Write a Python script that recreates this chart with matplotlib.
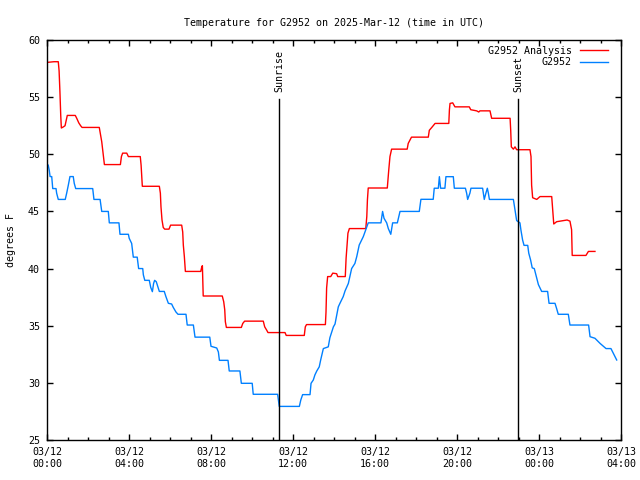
import matplotlib
matplotlib.use("Agg")
import matplotlib.pyplot as plt

# Hours since 2025-03-12 00:00 UTC
analysis_h = [0.06, 0.34, 0.55, 0.59, 0.63, 0.67, 0.70, 0.80, 0.88, 0.94, 0.99, 1.38, 1.45, 1.55, 1.64, 1.71,
              2.55, 2.60, 2.67, 2.72, 2.77, 2.80, 3.58, 3.63, 3.69, 3.89, 3.97, 4.55, 4.59, 4.62, 4.65,
              5.48, 5.53, 5.56, 5.61, 5.67, 5.74, 5.95, 6.03, 6.57, 6.62, 6.65, 6.70, 6.75, 7.50, 7.55,
              7.58, 7.60, 7.62, 8.55, 8.62, 8.67, 8.70, 8.75, 9.48, 9.55, 9.64, 10.55, 10.62, 10.72,
              10.78, 11.61, 11.67, 12.55, 12.60, 12.66, 13.58, 13.61, 13.64, 13.69, 13.84, 13.94,
              14.13, 14.18, 14.55, 14.59, 14.63, 14.68, 14.75, 15.55, 15.60, 15.63, 15.67, 16.60,
              16.67, 16.73, 16.81, 17.57, 17.62, 17.78, 18.60, 18.65, 18.77, 18.93, 19.60, 19.63,
              19.66, 19.79, 19.90, 20.60, 20.67, 20.96, 21.06, 21.12, 21.61, 21.69, 22.59, 22.62,
              22.65, 22.75, 22.83, 22.91, 23.56, 23.61, 23.64, 23.69, 23.89, 24.05, 24.62, 24.67,
              24.72, 24.86, 25.37, 25.51, 25.59, 25.62, 26.29, 26.41, 26.73]
analysis_v = [58.05, 58.1, 58.1, 57.3, 55.5, 53.4, 52.3, 52.4, 52.5, 53.0, 53.4, 53.4, 53.15, 52.75, 52.5, 52.35,
              52.35, 51.85, 51.1, 50.3, 49.5, 49.1, 49.1, 49.8, 50.1, 50.1, 49.8, 49.8, 49.05, 48.05, 47.2,
              47.2, 46.6, 45.4, 44.25, 43.6, 43.45, 43.45, 43.8, 43.8, 43.2, 42.05, 41.05, 39.75, 39.75, 40.15,
              40.25, 39.0, 37.6, 37.6, 37.1, 36.4, 35.35, 34.85, 34.85, 35.2, 35.4, 35.4, 34.9, 34.6,
              34.4, 34.4, 34.15, 34.15, 34.9, 35.1, 35.1, 36.2, 38.3, 39.3, 39.3, 39.6,
              39.55, 39.3, 39.3, 40.9, 41.9, 43.1, 43.5, 43.5, 44.55, 46.0, 47.05, 47.05,
              48.6, 49.8, 50.45, 50.45, 50.95, 51.5, 51.5, 52.1, 52.35, 52.7, 52.7, 53.9,
              54.45, 54.5, 54.15, 54.15, 53.9, 53.8, 53.7, 53.8, 53.8, 53.15, 53.15, 52.1,
              50.65, 50.45, 50.65, 50.4, 50.4, 49.8, 47.3, 46.2, 46.05, 46.3, 46.3, 45.1,
              43.9, 44.1, 44.25, 44.15, 43.4, 41.15, 41.15, 41.5, 41.5]

obs_h = [0.06, 0.11, 0.15, 0.23, 0.28, 0.44, 0.47, 0.55, 0.89, 0.96, 1.04, 1.12, 1.28, 1.33, 1.40, 2.23,
         2.29, 2.59, 2.63, 2.67, 2.99, 3.04, 3.51, 3.56, 3.97, 4.01, 4.13, 4.21, 4.40, 4.47, 4.67,
         4.70, 4.77, 4.99, 5.06, 5.14, 5.20, 5.25, 5.33, 5.43, 5.48, 5.72, 5.80, 5.92, 6.08, 6.16,
         6.29, 6.39, 6.78, 6.84, 7.14, 7.22, 7.94, 8.00, 8.28, 8.36, 8.41, 8.83, 8.89, 9.41, 9.48,
         10.01, 10.06, 11.25, 11.30, 11.33, 12.31, 12.38, 12.47, 12.83, 12.88, 12.99, 13.07, 13.16,
         13.28, 13.35, 13.48, 13.72, 13.80, 13.97, 14.05, 14.21, 14.29, 14.45, 14.54, 14.70, 14.86,
         15.02, 15.11, 15.23, 15.43, 15.60, 15.67, 16.29, 16.37, 16.44, 16.57, 16.65, 16.77, 16.86,
         17.09, 17.19, 17.22, 18.16, 18.24, 18.84, 18.89, 19.09, 19.14, 19.17, 19.20, 19.41, 19.46,
         19.82, 19.87, 20.41, 20.47, 20.52, 20.63, 20.68, 21.25, 21.33, 21.41, 21.48, 21.53, 21.58,
         22.75, 22.83, 22.91, 23.07, 23.12, 23.20, 23.27, 23.45, 23.50, 23.59, 23.67, 23.77, 23.85,
         23.97, 24.13, 24.42, 24.49, 24.78, 24.86, 24.94, 25.43, 25.51, 26.42, 26.49, 26.73, 26.98,
         27.27, 27.51, 27.62, 27.79]
obs_v = [49.05, 48.6, 48.05, 48.05, 47.0, 47.0, 46.6, 46.05, 46.05, 46.6, 47.3, 48.05, 48.05, 47.45, 47.0, 47.0,
         46.05, 46.05, 45.55, 45.0, 45.0, 44.0, 44.0, 43.0, 43.0, 42.65, 42.2, 41.0, 41.0, 40.0, 40.0,
         39.45, 38.97, 38.97, 38.35, 37.98, 38.7, 38.97, 38.85, 38.3, 38.0, 38.0, 37.55, 36.96, 36.9, 36.6,
         36.2, 36.0, 36.0, 35.06, 35.06, 34.0, 34.0, 33.2, 33.05, 32.7, 31.97, 31.97, 31.04, 31.04, 29.96,
         29.96, 29.0, 29.0, 28.35, 27.94, 27.94, 28.5, 28.97, 28.97, 29.96, 30.25, 30.7, 31.04,
         31.4, 32.0, 33.0, 33.15, 33.95, 34.9, 35.15, 36.65, 36.96, 37.55, 38.05, 38.7, 40.0,
         40.45, 41.05, 42.06, 42.8, 43.65, 44.0, 44.0, 45.0, 44.4, 44.0, 43.5, 43.0, 44.0,
         44.0, 44.8, 45.0, 45.0, 46.06, 46.06, 47.03, 47.03, 48.04, 47.5, 47.03, 47.03, 48.04,
         48.04, 47.03, 47.03, 46.6, 46.05, 46.6, 47.03, 47.03, 46.05, 46.6, 47.03, 46.6, 46.05,
         46.05, 45.1, 44.2, 44.0, 43.35, 42.5, 42.03, 42.03, 41.35, 40.75, 40.06, 40.0, 39.45,
         38.6, 38.0, 38.0, 36.96, 36.96, 36.5, 36.0, 36.0, 35.06, 35.06, 34.04, 33.9, 33.45,
         33.0, 33.0, 32.6, 32.0]

sun_events = [11.33, 22.99]
sun_labels = ["Sunrise", "Sunset"]
xtick_pos = [0, 4, 8, 12, 16, 20, 24, 28]
xtick_labels = ["03/12\n00:00", "03/12\n04:00", "03/12\n08:00", "03/12\n12:00",
                "03/12\n16:00", "03/12\n20:00", "03/13\n00:00", "03/13\n04:00"]

FONT = "DejaVu Sans Mono"
FS = 7.2
plt.rcParams['font.family'] = FONT
plt.rcParams['font.size'] = FS

fig = plt.figure(figsize=(6.4, 4.8), dpi=100)
ax = fig.add_axes([47/640, 1-440/480, (621-47)/640, 400/480])

ax.plot(analysis_h, analysis_v, color="#ff0000", lw=1.0, label="G2952 Analysis")
ax.plot(obs_h, obs_v, color="#0080ff", lw=1.0, label="G2952")

for h, lab in zip(sun_events, sun_labels):
    ax.plot([h, h], [25, 54.84], color="black", lw=1.0)
    ax.text(h, 55.45, lab, rotation=90, ha="center", va="bottom", fontsize=FS)

ax.set_xlim(0, 28)
ax.set_ylim(25, 60)
ax.set_xticks(xtick_pos)
ax.set_xticklabels(xtick_labels)
ax.set_xticks(range(0, 29), minor=True)
ax.set_yticks(range(25, 61, 5))
ax.tick_params(which="major", direction="in", length=4, width=1, top=True, right=True, pad=5)
ax.tick_params(which="minor", direction="in", length=2, width=1, top=True, right=False, left=False)
for s in ax.spines.values():
    s.set_linewidth(1.0)

ax.set_ylabel("degrees F", labelpad=9)
ax.set_title("Temperature for G2952 on 2025-Mar-12 (time in UTC)", fontsize=FS, pad=10)

ax.legend(loc="upper right", frameon=False, markerfirst=False, handlelength=2.8,
          handletextpad=0.8, labelspacing=0.15, borderaxespad=0.2, fontsize=FS,
          bbox_to_anchor=(1 - 7/574, 1.0))

fig.savefig("out.png", dpi=100)
